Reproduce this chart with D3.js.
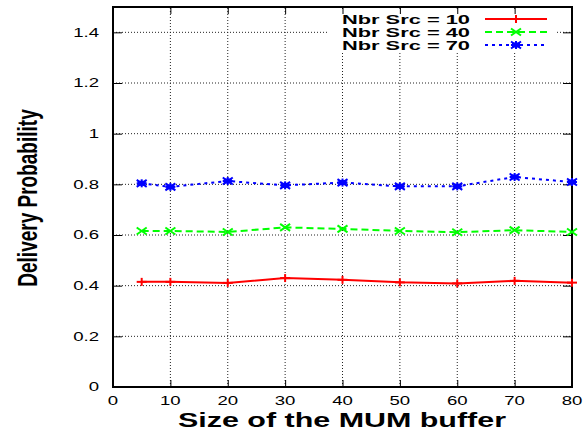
<!DOCTYPE html>
<html><head><meta charset="utf-8">
<script src="https://cdn.jsdelivr.net/npm/d3@7"></script>
<style>body{margin:0;background:#fff}svg{display:block}</style>
</head><body>
<svg id="c" width="584" height="432"></svg>
<script>
const bufferSizes = [5, 10, 20, 30, 40, 50, 60, 70, 80];
const src10 = [0.415, 0.415, 0.411, 0.430, 0.423, 0.413, 0.409, 0.419, 0.412];
const src40 = [0.616, 0.616, 0.612, 0.630, 0.624, 0.616, 0.611, 0.619, 0.612];
const src70 = [0.804, 0.790, 0.813, 0.796, 0.807, 0.792, 0.792, 0.829, 0.809];
const seriesNames = ["Nbr Src = 10", "Nbr Src = 40", "Nbr Src = 70"];
const xTicks = [0, 10, 20, 30, 40, 50, 60, 70, 80];
const yTicks = [0, 0.2, 0.4, 0.6, 0.8, 1, 1.2, 1.4];
const xTitle = "Size of the MUM buffer";
const yTitle = "Delivery Probability";

const svg = d3.select("#c");
const L = 113, R = 572, T = 7, B = 387;
const x = d3.scaleLinear().domain([0, 80]).range([L, R]);
const y = d3.scaleLinear().domain([0, 1.5]).range([B, T]);
const SX = 1.55;

// grid
const g = svg.append("g");
g.selectAll("line.gx").data(xTicks.slice(1, -1)).join("line")
  .attr("x1", d => x(d)).attr("x2", d => x(d)).attr("y1", B).attr("y2", T)
  .attr("stroke", "#222").attr("stroke-width", 1).attr("stroke-dasharray", "1,2");
g.selectAll("line.gy").data(yTicks.slice(1)).join("line")
  .attr("x1", L).attr("x2", R).attr("y1", d => y(d)).attr("y2", d => y(d))
  .attr("stroke", "#222").attr("stroke-width", 1).attr("stroke-dasharray", "1,2");

// legend background
svg.append("rect").attr("x", 328).attr("y", 11).attr("width", 228).attr("height", 41).attr("fill", "#fff");

// axes with inward ticks
const axB = d3.axisBottom(x).tickValues(xTicks).tickSize(-7).tickFormat("");
const axT = d3.axisTop(x).tickValues(xTicks).tickSize(-7).tickFormat("");
const axL = d3.axisLeft(y).tickValues(yTicks).tickSize(-9).tickFormat("");
const axR = d3.axisRight(y).tickValues(yTicks).tickSize(-9).tickFormat("");
[[axB, `translate(0,${B})`], [axT, `translate(0,${T})`], [axL, `translate(${L},0)`], [axR, `translate(${R},0)`]]
  .forEach(([ax, tr]) => {
    const a = svg.append("g").attr("transform", tr).call(ax);
    a.select(".domain").remove();
    a.selectAll("line").attr("stroke", "#000").attr("stroke-width", 1);
  });
svg.append("rect").attr("x", L).attr("y", T).attr("width", R - L).attr("height", B - T)
  .attr("fill", "none").attr("stroke", "#000").attr("stroke-width", 2);

// tick labels
const font = "Liberation Sans, Arial, Helvetica, sans-serif";
xTicks.forEach(t => {
  svg.append("text").attr("transform", `translate(${x(t)},405) scale(${SX},1)`)
    .attr("text-anchor", "middle").attr("font-family", font).attr("font-size", 12).text(t);
});
yTicks.forEach(t => {
  svg.append("text").attr("transform", `translate(99,${y(t) + 4.3}) scale(${SX},1)`)
    .attr("text-anchor", "end").attr("font-family", font).attr("font-size", 12).text(d3.format("~g")(t));
});

// titles
svg.append("text").attr("transform", `translate(342,427) scale(1.45,1)`)
  .attr("text-anchor", "middle").attr("font-family", font).attr("font-weight", "bold")
  .attr("font-size", 21).text(xTitle);
svg.append("text").attr("transform", `translate(37,198) scale(1.5,1) rotate(-90)`)
  .attr("text-anchor", "middle").attr("font-family", font).attr("font-weight", "bold")
  .attr("font-size", 19).text(yTitle);

// series
const colors = ["#ff0000", "#00ff00", "#0000ff"];
const dashes = [null, "7,4", "3,4"];
const allSeries = [src10, src40, src70];
const line = d3.line().x(d => x(d[0])).y(d => y(d[1]));

function marker(sel, type, cx, cy, color) {
  const hx = 5, hy = 3.5;
  const gg = sel.append("g").attr("stroke", color).attr("stroke-width", 2).attr("fill", "none");
  if (type === 0 || type === 2) {
    gg.append("line").attr("x1", cx - hx).attr("x2", cx + hx).attr("y1", cy).attr("y2", cy);
    gg.append("line").attr("x1", cx).attr("x2", cx).attr("y1", cy - hy - 0.5).attr("y2", cy + hy + 0.5);
  }
  if (type === 1 || type === 2) {
    gg.append("line").attr("x1", cx - hx).attr("x2", cx + hx).attr("y1", cy - hy).attr("y2", cy + hy);
    gg.append("line").attr("x1", cx - hx).attr("x2", cx + hx).attr("y1", cy + hy).attr("y2", cy - hy);
  }
  if (type === 2) {
    gg.append("rect").attr("x", cx - 4).attr("y", cy - 2.5).attr("width", 8).attr("height", 5)
      .attr("fill", color).attr("stroke", "none");
  }
}

allSeries.forEach((vals, i) => {
  const pts = bufferSizes.map((b, j) => [b, vals[j]]);
  svg.append("path").attr("d", line(pts)).attr("fill", "none")
    .attr("stroke", colors[i]).attr("stroke-width", 2)
    .attr("stroke-dasharray", dashes[i]);
  pts.forEach(p => marker(svg, i, x(p[0]), y(p[1]), colors[i]));
});

// legend
const legY = [19, 32, 45];
seriesNames.forEach((n, i) => {
  svg.append("text").attr("transform", `translate(470,${legY[i] + 5}) scale(1.68,1)`)
    .attr("text-anchor", "end").attr("font-family", font).attr("font-weight", "bold")
    .attr("font-size", 13).text(n);
  svg.append("line").attr("x1", 485).attr("x2", 547).attr("y1", legY[i]).attr("y2", legY[i])
    .attr("stroke", colors[i]).attr("stroke-width", 2).attr("stroke-dasharray", dashes[i]);
  marker(svg, i, 516, legY[i], colors[i]);
});
</script>
</body></html>
